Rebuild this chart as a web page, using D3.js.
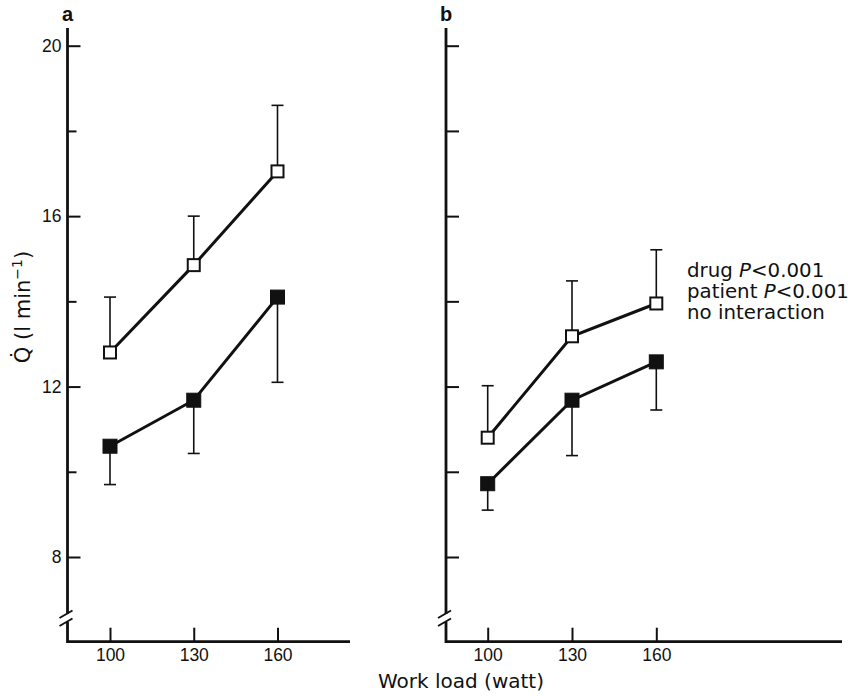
<!DOCTYPE html>
<html>
<head>
<meta charset="utf-8">
<script src="https://cdn.jsdelivr.net/npm/d3@7"></script>
<style>
  body { margin: 0; background: #fff; }
  text { fill: #111; }
</style>
</head>
<body>
<svg id="chart" width="848" height="696"></svg>
<script>
// work load (watt) on the x axis
const loads = [100, 130, 160];
const xTicks = [100, 130, 160];
const yTicks = [8, 10, 12, 14, 16, 18, 20];
const yLabelled = [8, 12, 16, 20];

// panel a: open squares (error bar up), filled squares (error bar down)
const aOpen = [12.8, 14.85, 17.05];
const aOpenSd = [1.3, 1.15, 1.55];
const aFilled = [10.6, 11.68, 14.1];
const aFilledSd = [0.9, 1.25, 2.0];

// panel b
const bOpen = [10.8, 13.18, 13.95];
const bOpenSd = [1.22, 1.3, 1.26];
const bFilled = [9.72, 11.68, 12.58];
const bFilledSd = [0.62, 1.3, 1.13];

const notes = [["drug ", "P", "<0.001"], ["patient ", "P", "<0.001"], ["no interaction", "", ""]];

const svg = d3.select("#chart");
const axisTop = 28, baseY = 641.7;
const y = d3.scaleLinear().domain([8, 20]).range([557, 45.7]);

//Draws one panel: axes with the broken y axis, then bars, lines, squares.
function drawPanel(p) {
  const x = d3.scaleLinear().domain([100, 160]).range(p.xRange);
  const g = svg.append("g");

  // y axis ticks point inwards, labels sit outside
  const yAxis = g.append("g")
    .attr("transform", `translate(${p.ax},0)`)
    .call(d3.axisLeft(y).tickValues(yTicks).tickSize(-13).tickPadding(6)
      .tickFormat(d => (p.labels && yLabelled.includes(d)) ? d : ""));
  yAxis.select(".domain").remove();
  yAxis.selectAll("line").attr("stroke", "#111").attr("stroke-width", 2);
  if (p.shortMinor) {
    yAxis.selectAll(".tick").filter(d => !yLabelled.includes(d))
      .select("line").attr("x2", 9);
  }
  yAxis.selectAll("text")
    .style("font-family", "'Liberation Sans', Arial, sans-serif")
    .style("font-size", "17.5px");

  const xAxis = g.append("g")
    .attr("transform", `translate(0,${baseY})`)
    .call(d3.axisBottom(x).tickValues(xTicks).tickSize(-14).tickPadding(7));
  xAxis.select(".domain").remove();
  xAxis.selectAll("line").attr("stroke", "#111").attr("stroke-width", 2);
  xAxis.selectAll("text")
    .style("font-family", "'Liberation Sans', Arial, sans-serif")
    .style("font-size", "17.5px");

  // axis frame with break marks near the bottom of the y axis
  const ax = p.ax;
  g.append("path")
    .attr("d", `M${ax},${axisTop}V614M${ax},622V${baseY}H${p.xEnd}`)
    .attr("fill", "none").attr("stroke", "#111").attr("stroke-width", 2.8);
  g.selectAll("line.brk").data([0, 8]).join("line")
    .attr("class", "brk")
    .attr("x1", ax - 8).attr("y1", d => 618 + d)
    .attr("x2", ax + 5).attr("y2", d => 610.5 + d)
    .attr("stroke", "#111").attr("stroke-width", 2);

  g.append("text")
    .attr("x", ax).attr("y", 21)
    .attr("text-anchor", "middle")
    .style("font-family", "'Liberation Sans', Arial, sans-serif")
    .style("font-size", "20px").style("font-weight", "bold")
    .text(p.name);

  const series = [
    { vals: p.open, sd: p.openSd, dir: -1, filled: false },
    { vals: p.filled, sd: p.filledSd, dir: 1, filled: true }
  ];

  series.forEach(s => {
    const pts = loads.map((l, i) => ({ l, v: s.vals[i], sd: s.sd[i] }));
    const ends = pts.map(d => y(d.v + (s.dir < 0 ? d.sd : -d.sd)));

    // error bars
    g.selectAll(null).data(pts).join("line")
      .attr("x1", d => x(d.l)).attr("x2", d => x(d.l))
      .attr("y1", d => y(d.v)).attr("y2", (d, i) => ends[i])
      .attr("stroke", "#111").attr("stroke-width", 1.6);
    g.selectAll(null).data(pts).join("line")
      .attr("x1", d => x(d.l) - 6).attr("x2", d => x(d.l) + 6)
      .attr("y1", (d, i) => ends[i]).attr("y2", (d, i) => ends[i])
      .attr("stroke", "#111").attr("stroke-width", 1.6);

    g.append("path").datum(pts)
      .attr("d", d3.line().x(d => x(d.l)).y(d => y(d.v)))
      .attr("fill", "none").attr("stroke", "#111").attr("stroke-width", 3);

    const sz = s.filled ? 14 : 12;
    g.selectAll(null).data(pts).join("rect")
      .attr("x", d => x(d.l) - sz / 2).attr("y", d => y(d.v) - sz / 2)
      .attr("width", sz).attr("height", sz)
      .attr("fill", s.filled ? "#111" : "#fff")
      .attr("stroke", "#111").attr("stroke-width", s.filled ? 1 : 2);
  });
}

drawPanel({ name: "a", ax: 67.5, xEnd: 350, xRange: [110, 277.5], labels: true, shortMinor: true,
  open: aOpen, openSd: aOpenSd, filled: aFilled, filledSd: aFilledSd });
drawPanel({ name: "b", ax: 446, xEnd: 842, xRange: [487.7, 656.3], labels: false, shortMinor: false,
  open: bOpen, openSd: bOpenSd, filled: bFilled, filledSd: bFilledSd });

// y axis title, Q with a dot over it
const yt = svg.append("text")
  .attr("transform", "translate(30,307) rotate(-90)")
  .attr("text-anchor", "middle")
  .style("font-family", "'DejaVu Sans', sans-serif")
  .style("font-size", "21px");
yt.append("tspan").text("Q\u0307 (l min");
yt.append("tspan").attr("dy", -8).style("font-size", "14px").text("\u22121");
yt.append("tspan").attr("dy", 8).text(")");

svg.append("text")
  .attr("x", 461).attr("y", 688)
  .attr("text-anchor", "middle")
  .style("font-family", "'DejaVu Sans', sans-serif")
  .style("font-size", "20px")
  .text("Work load (watt)");

// statistics note beside panel b
const note = svg.append("g")
  .style("font-family", "'DejaVu Sans', sans-serif")
  .style("font-size", "19.8px");
notes.forEach((n, i) => {
  const t = note.append("text").attr("x", 687).attr("y", 277 + i * 21);
  t.append("tspan").text(n[0]);
  t.append("tspan").style("font-style", "italic").text(n[1]);
  t.append("tspan").text(n[2]);
});
</script>
</body>
</html>
